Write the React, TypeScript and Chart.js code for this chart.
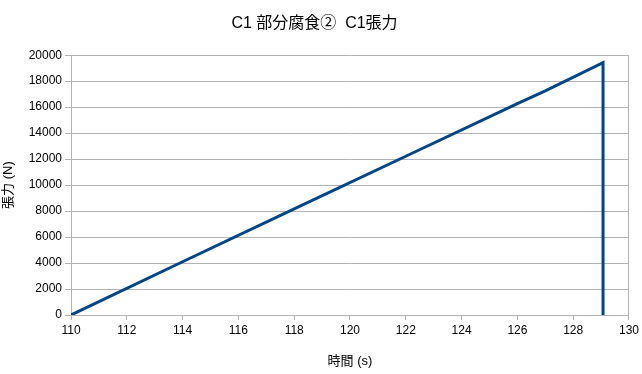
import React, { useEffect, useRef } from "react";
import { Chart, registerables } from "chart.js";

Chart.register(...registerables);

// Tension record for C1 (partial corrosion case ②)
const timeS: number[] = [110, 114, 118, 122, 126, 127, 129.07, 129.07];
const tensionN: number[] = [0, 4100, 8170, 12220, 16280, 17250, 19420, 0];

const TITLE = "C1 部分腐食②  C1張力";
const X_TITLE = "時間 (s)";
const Y_TITLE = "張力 (N)";

const FONT = "'Liberation Sans', 'Noto Sans CJK JP', sans-serif";

export default function App() {
  const canvasRef = useRef<HTMLCanvasElement | null>(null);

  useEffect(() => {
    document.body.style.margin = "0";
    const canvas = canvasRef.current;
    if (!canvas) return;
    const chart = new Chart(canvas, {
      type: "line",
      data: {
        datasets: [
          {
            data: timeS.map((x, i) => ({ x, y: tensionN[i] })),
            borderColor: "#004586",
            borderWidth: 3,
            pointRadius: 0,
            tension: 0,
            fill: false,
          },
        ],
      },
      options: {
        animation: false,
        responsive: false,
        maintainAspectRatio: false,
        layout: { padding: { left: 0, right: 13, top: 0, bottom: 0 } },
        plugins: {
          legend: { display: false },
          tooltip: { enabled: false },
          title: {
            display: true,
            text: TITLE,
            color: "#000",
            font: { family: FONT, size: 16, weight: "normal" },
            padding: { top: 14, bottom: 22 },
          },
        },
        scales: {
          x: {
            type: "linear",
            min: 110,
            max: 130,
            ticks: {
              stepSize: 2,
              color: "#000",
              font: { family: FONT, size: 12 },
              padding: 3,
              maxRotation: 0,
              callback: (v: any) => String(v),
            },
            grid: {
              color: (ctx: any) => (ctx.tick && ctx.tick.value === 130 ? "#b3b3b3" : "rgba(0,0,0,0)"),
              tickColor: "#b3b3b3",
              tickLength: 5,
              lineWidth: 1,
            },
            border: { color: "#b3b3b3" },
            title: {
              display: true,
              text: X_TITLE,
              color: "#000",
              font: { family: FONT, size: 13 },
              padding: { top: 6, bottom: 5 },
            },
            afterFit: (scale: any) => {
              scale.height = 59;
            },
          },
          y: {
            min: 0,
            max: 20000,
            ticks: {
              stepSize: 2000,
              color: "#000",
              font: { family: FONT, size: 12 },
              padding: 3,
              callback: (v: any) => String(v),
            },
            grid: {
              color: "#b3b3b3",
              tickColor: "#b3b3b3",
              tickLength: 6,
              lineWidth: 1,
            },
            border: { color: "#b3b3b3" },
            title: {
              display: true,
              text: Y_TITLE,
              color: "#000",
              font: { family: FONT, size: 13 },
              padding: { top: 1, bottom: 2 },
            },
            afterFit: (scale: any) => {
              scale.width = 71;
            },
          },
        },
      },
    });
    return () => chart.destroy();
  }, []);

  return (
    <div style={{ width: 642, height: 374, background: "#fff" }}>
      <canvas ref={canvasRef} width={642} height={374} style={{ display: "block" }} />
    </div>
  );
}
